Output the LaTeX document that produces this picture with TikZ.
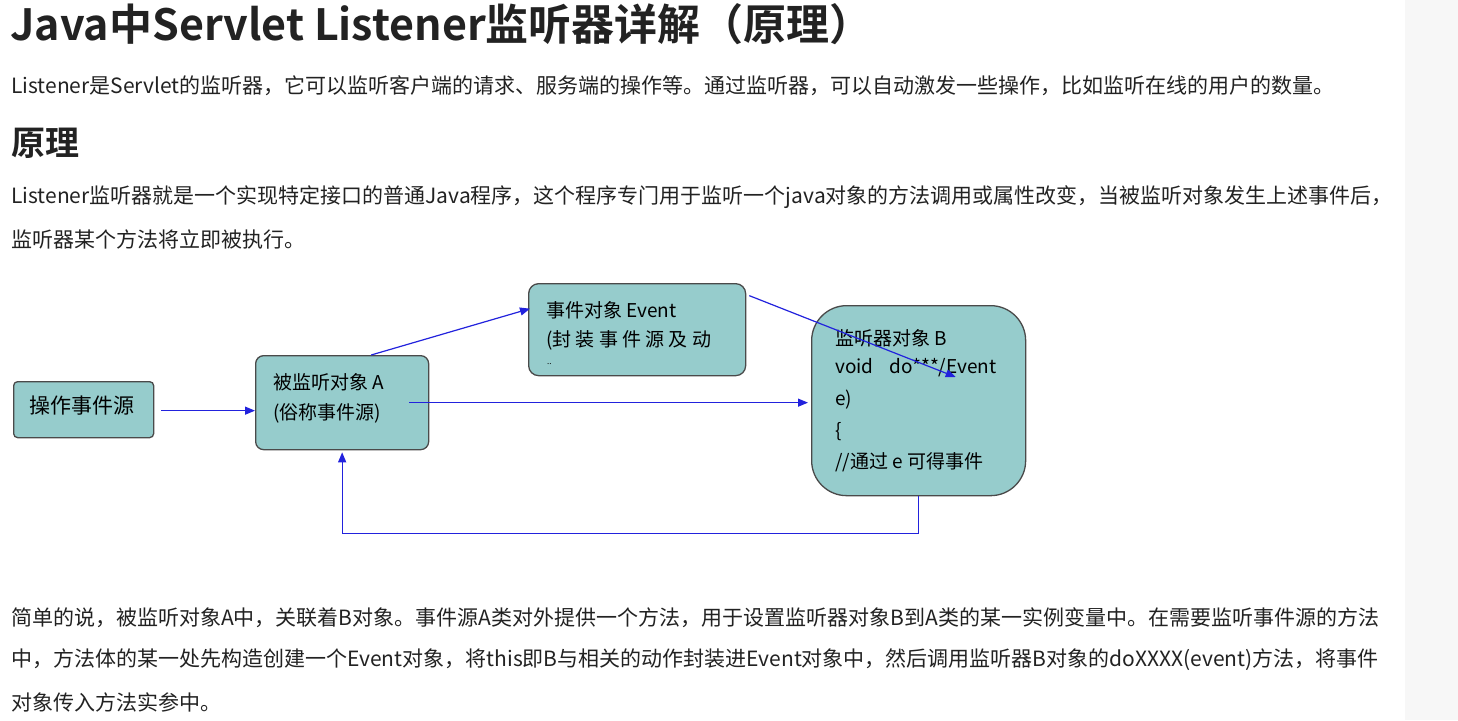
\documentclass[tikz,border=0pt]{standalone}
\usepackage{fontspec}
\setmainfont{Noto Sans CJK SC}
\newfontfamily\hd{Noto Sans CJK SC Bold}
\usetikzlibrary{calc,arrows.meta}
\definecolor{boxfill}{HTML}{96CCCC}
\definecolor{boxline}{HTML}{4A4A4A}
\definecolor{arr}{HTML}{2222DD}
\definecolor{txt}{HTML}{222222}
\definecolor{side}{HTML}{F7F7F7}
\tikzset{
 box/.style={draw=boxline,fill=boxfill,line width=1.3pt,inner sep=0,anchor=north west},
 lbl/.style={anchor=west,inner sep=0,text=black,font=\fontsize{19}{19}\selectfont},
 para/.style={anchor=west,inner sep=0,text=txt,font=\fontsize{21}{21}\selectfont},
 conn/.style={draw=arr,line width=1.2pt,-{Triangle[length=10pt,width=8pt]}}
}
\begin{document}
\begin{tikzpicture}[x=1pt,y=-1pt]
\useasboundingbox[fill=white] (0,0) rectangle (1458,720);
\fill[side] (1405,0) rectangle (1458,720);
\node[para,font=\hd\fontsize{43}{43}\selectfont] (t) at (10,24) {Java中Servlet Listener监听器详解（原理）};
\node[para] (p1) at (11,86) {Listener是Servlet的监听器，它可以监听客户端的请求、服务端的操作等。通过监听器，可以自动激发一些操作，比如监听在线的用户的数量。};
\node[para,font=\hd\fontsize{34}{34}\selectfont] (h) at (11,143) {原理};
\node[para] (p2) at (11,197) {Listener监听器就是一个实现特定接口的普通Java程序，这个程序专门用于监听一个java对象的方法调用或属性改变，当被监听对象发生上述事件后，};
\node[para] (p3) at (11,239) {监听器某个方法将立即被执行。};
\node[para] (p4) at (11,618) {简单的说，被监听对象A中，关联着B对象。事件源A类对外提供一个方法，用于设置监听器对象B到A类的某一实例变量中。在需要监听事件源的方法};
\node[para] (p5) at (11,660) {中，方法体的某一处先构造创建一个Event对象，将this即B与相关的动作封装进Event对象中，然后调用监听器B对象的doXXXX(event)方法，将事件};
\node[para] (p6) at (11,702) {对象传入方法实参中。};
% boxes
\node[box,rounded corners=4pt,minimum width=140pt,minimum height=56pt] (src) at (13,381) {};
\node[box,rounded corners=8pt,minimum width=173pt,minimum height=94pt] (A) at (255,355) {};
\node[box,rounded corners=10pt,minimum width=217pt,minimum height=92pt] (E) at (528,283) {};
\node[box,rounded corners=35pt,minimum width=214pt,minimum height=190pt] (B) at (811,305) {};
\node[lbl,font=\fontsize{21}{21}\selectfont] (srct) at (29,406) {操作事件源};
\node[lbl] (a1) at (273,382) {被监听对象 A};
\node[lbl] (a2) at (273,413) {(俗称事件源)};
\node[lbl] (e1) at (546,310) {事件对象 Event};
\node[lbl] (e2) at (546,340) {(封 装 事 件 源 及 动};
\node[lbl,font=\fontsize{8}{8}\selectfont] (e3) at (547,364) {..};
\node[lbl] (b1) at (835,338) {监听器对象 B};
\node[lbl] (b2) at (835,368) {void\hspace{16pt}do***/Event};
\node[lbl] (b3) at (835,400) {e)};
\node[lbl] (b4) at (835,432) {\{};
\node[lbl] (b5) at (835,462) {//通过 e 可得事件};
% connectors
\coordinate (s1) at ($(src.east)+(7,1)$);
\draw[conn] (s1) -- (s1 -| A.west);
\draw[conn] ($(A.east)+(-20,0)$) -- ($(B.west)+(-3,2)$);
\draw[conn] ($(A.north)+(29,0)$) -- ($(E.west)+(2,-21)$);
\draw[conn] ($(E.east)+(3,-34)$) -- ($(B.north)+(37,72)$);
\draw[conn] (B.south) -- ++(0,37) -| ($(A.south)+(0,2)$);
\end{tikzpicture}
\end{document}
